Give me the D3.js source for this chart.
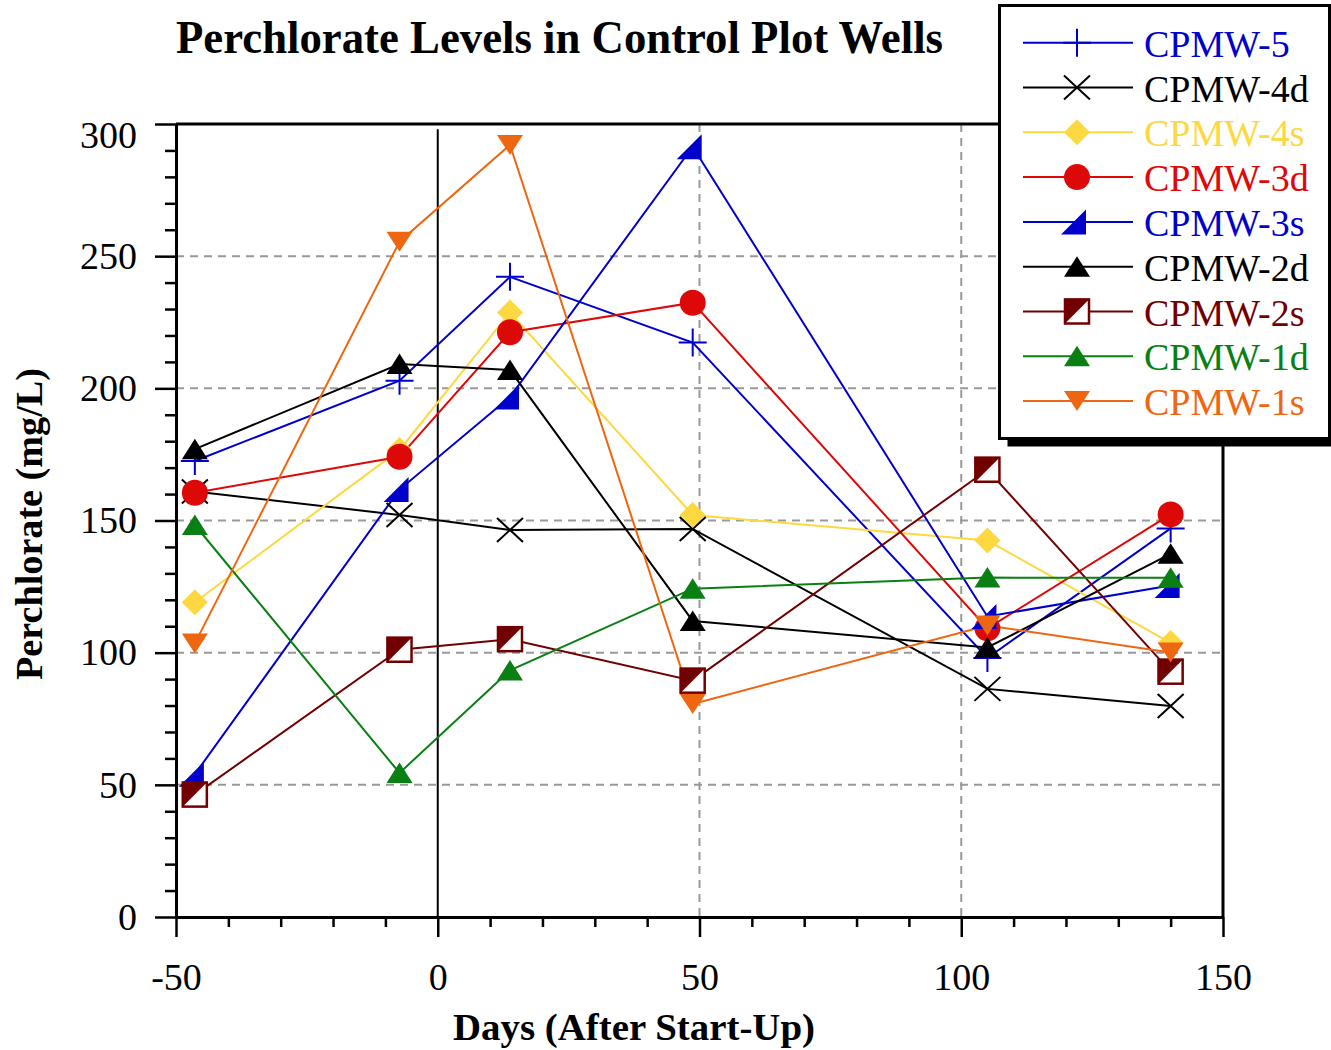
<!DOCTYPE html>
<html>
<head>
<meta charset="utf-8">
<script src="https://cdn.jsdelivr.net/npm/d3@7"></script>
<style>
  body { margin: 0; background: #fff; }
  svg { display: block; font-family: "Liberation Serif", "Times New Roman", serif; }
</style>
</head>
<body>
<svg width="1331" height="1050"></svg>
<script>
// days after start-up for every sampling event
var days = [-46.4, -7.3, 13.8, 48.7, 105, 140];

// perchlorate (mg/L) per well
var cpmw5  = [172.5, 202.9, 242.2, 217.3, 98, 147];
var cpmw4d = [161, 152.1, 146.4, 146.8, 86.3, 79.8];
var cpmw4s = [119.1, 176.7, 228.7, 152.1, 142.4, 103.7];
var cpmw3d = [160.5, 174.1, 221.2, 232.4, 109.2, 152.3];
var cpmw3s = [54, 161.7, 196.7, 291.4, 113.7, 125.4];
var cpmw2d = [177, 209.2, 206.9, 112, 102, 137.4];
var cpmw2s = [46.3, 101.1, 105.1, 89.4, 169.2, 92.8];
var cpmw1d = [148.3, 54.5, 93.3, 124.2, 128.4, 128.3];
var cpmw1s = [103.5, 255.5, 292.1, 80.6, 110.3, 100.1];

var seriesNames = ["CPMW-5", "CPMW-4d", "CPMW-4s", "CPMW-3d", "CPMW-3s", "CPMW-2d", "CPMW-2s", "CPMW-1d", "CPMW-1s"];
var seriesValues = [cpmw5, cpmw4d, cpmw4s, cpmw3d, cpmw3s, cpmw2d, cpmw2s, cpmw1d, cpmw1s];

var xTicks = [-50, 0, 50, 100, 150];
var yTicks = [0, 50, 100, 150, 200, 250, 300];

var colors = {
  "CPMW-5": "#0000CC", "CPMW-4d": "#000000", "CPMW-4s": "#FDD841",
  "CPMW-3d": "#DD0808", "CPMW-3s": "#0000CC", "CPMW-2d": "#000000",
  "CPMW-2s": "#720000", "CPMW-1d": "#0A7F14", "CPMW-1s": "#EF6611"
};
var shapes = {
  "CPMW-5": "plus", "CPMW-4d": "cross", "CPMW-4s": "diamond",
  "CPMW-3d": "circle", "CPMW-3s": "halfTri", "CPMW-2d": "triUp",
  "CPMW-2s": "halfSquare", "CPMW-1d": "triUp", "CPMW-1s": "triDown"
};
// which markers end up on top
var drawOrder = ["CPMW-5", "CPMW-4d", "CPMW-4s", "CPMW-3d", "CPMW-3s", "CPMW-1d", "CPMW-2s", "CPMW-1s", "CPMW-2d"];

var series = seriesNames.map(function (name, i) {
  return { name: name, values: days.map(function (d, j) { return { day: d, value: seriesValues[i][j] }; }) };
});

var svg = d3.select("svg");
var x = d3.scaleLinear().domain([-50, 150]).range([176, 1223]);
var y = d3.scaleLinear().domain([0, 300]).range([917, 124]);

// grid
var grid = svg.append("g").attr("stroke", "#999").attr("stroke-width", 2).attr("stroke-dasharray", "8,6");
grid.selectAll("line.h").data(yTicks.filter(function (d) { return d > 0 && d < 300; })).enter().append("line")
  .attr("x1", x(-50)).attr("x2", x(150)).attr("y1", y).attr("y2", y);
grid.selectAll("line.v").data([50, 100]).enter().append("line")
  .attr("x1", x).attr("x2", x).attr("y1", y(300)).attr("y2", y(0));

// zero day line
svg.append("line").attr("x1", x(0)).attr("x2", x(0)).attr("y1", y(298)).attr("y2", y(0))
  .attr("stroke", "#000").attr("stroke-width", 2);

// frame top/right
svg.append("path").attr("d", "M" + x(-50) + "," + y(300) + "H" + x(150) + "V" + y(0))
  .attr("fill", "none").attr("stroke", "#000").attr("stroke-width", 3);

function minorTicks(lo, hi, step, majors) {
  return d3.range(lo, hi + step / 2, step).filter(function (v) { return majors.indexOf(v) < 0; });
}

// bottom axis
var xAxis = svg.append("g").attr("transform", "translate(0," + y(0) + ")")
  .call(d3.axisBottom(x).tickValues(xTicks).tickSize(20).tickSizeOuter(0).tickPadding(26).tickFormat(function (d) { return String(d); }));
var xMinor = svg.append("g").attr("transform", "translate(0," + y(0) + ")")
  .call(d3.axisBottom(x).tickValues(minorTicks(-50, 150, 10, xTicks)).tickSize(10).tickFormat(""));
xMinor.select(".domain").remove();

// left axis
var yAxis = svg.append("g").attr("transform", "translate(" + x(-50) + ",0)")
  .call(d3.axisLeft(y).tickValues(yTicks).tickSize(21).tickSizeOuter(0).tickPadding(18));
var yMinor = svg.append("g").attr("transform", "translate(" + x(-50) + ",0)")
  .call(d3.axisLeft(y).tickValues(minorTicks(0, 300, 10, yTicks)).tickSize(11).tickFormat(""));
yMinor.select(".domain").remove();
yAxis.selectAll(".tick text").filter(function (d) { return d === 300; }).attr("dy", "0.62em");

[xAxis, xMinor, yAxis, yMinor].forEach(function (a) {
  a.select(".domain").attr("stroke-width", 3);
  a.selectAll(".tick line").attr("stroke-width", 2.5);
  a.selectAll(".tick text").attr("font-size", 38).attr("font-family", "Liberation Serif, Times New Roman, serif").attr("fill", "#000");
});

// lines
var line = d3.line().x(function (d) { return x(d.day); }).y(function (d) { return y(d.value); });
svg.append("g").selectAll("path").data(series).enter().append("path")
  .attr("d", function (d) { return line(d.values); })
  .attr("fill", "none").attr("stroke", function (d) { return colors[d.name]; }).attr("stroke-width", 2);

function drawMarker(g, shape, color) {
  if (shape === "plus") {
    g.append("path").attr("d", "M-14,0H14M0,-14V14").attr("stroke", color).attr("stroke-width", 2).attr("fill", "none");
  } else if (shape === "cross") {
    g.append("path").attr("d", "M-13,-12L13,12M-13,12L13,-12").attr("stroke", color).attr("stroke-width", 2).attr("fill", "none");
  } else if (shape === "diamond") {
    g.append("path").attr("d", "M0,-13L13,0L0,13L-13,0Z").attr("fill", color);
  } else if (shape === "circle") {
    g.append("circle").attr("r", 13).attr("fill", color);
  } else if (shape === "halfTri") {
    g.append("path").attr("d", "M-16,12.5L9,12.5L9,-12.5Z").attr("fill", color);
  } else if (shape === "triUp") {
    g.append("path").attr("d", "M0,-10.5L13,10L-13,10Z").attr("fill", color);
  } else if (shape === "triDown") {
    g.append("path").attr("d", "M-13,-10L13,-10L0,10Z").attr("fill", color);
  } else if (shape === "halfSquare") {
    g.append("rect").attr("x", -12).attr("y", -12).attr("width", 24).attr("height", 24)
      .attr("fill", "#fff").attr("stroke", color).attr("stroke-width", 2.5);
    g.append("path").attr("d", "M-13,-13L13,-13L-13,13Z").attr("fill", color);
  }
}

// markers
var markers = svg.append("g");
drawOrder.forEach(function (name) {
  var s = series[seriesNames.indexOf(name)];
  s.values.forEach(function (p) {
    var g = markers.append("g").attr("transform", "translate(" + x(p.day) + "," + y(p.value) + ")");
    drawMarker(g, shapes[name], colors[name]);
  });
});

// titles
svg.append("text").attr("x", 559.5).attr("y", 53).attr("text-anchor", "middle")
  .attr("font-size", 46).attr("font-weight", "bold")
  .attr("textLength", 767).attr("lengthAdjust", "spacingAndGlyphs")
  .text("Perchlorate Levels in Control Plot Wells");
svg.append("text").attr("x", 634).attr("y", 1040).attr("text-anchor", "middle")
  .attr("font-size", 37).attr("font-weight", "bold")
  .attr("textLength", 362).attr("lengthAdjust", "spacingAndGlyphs")
  .text("Days (After Start-Up)");
svg.append("text").attr("transform", "translate(42,524) rotate(-90)").attr("text-anchor", "middle")
  .attr("font-size", 37).attr("font-weight", "bold")
  .attr("textLength", 312).attr("lengthAdjust", "spacingAndGlyphs")
  .text("Perchlorate (mg/L)");

// legend
var legend = svg.append("g");
legend.append("rect").attr("x", 1007.5).attr("y", 13.5).attr("width", 330).attr("height", 433).attr("fill", "#000");
legend.append("rect").attr("x", 999.5).attr("y", 5.5).attr("width", 330).attr("height", 433)
  .attr("fill", "#fff").attr("stroke", "#000").attr("stroke-width", 3);

var rows = legend.selectAll("g.row").data(seriesNames).enter().append("g")
  .attr("transform", function (d, i) { return "translate(0," + (42.7 + i * 44.8) + ")"; });
rows.append("line").attr("x1", 1023).attr("x2", 1133).attr("stroke", function (d) { return colors[d]; }).attr("stroke-width", 2);
rows.each(function (d) {
  var g = d3.select(this).append("g").attr("transform", "translate(1077,0)");
  drawMarker(g, shapes[d], colors[d]);
});
rows.append("text").attr("x", 1144).attr("y", 14).attr("font-size", 38)
  .attr("fill", function (d) { return colors[d]; }).text(function (d) { return d; });
</script>
</body>
</html>
